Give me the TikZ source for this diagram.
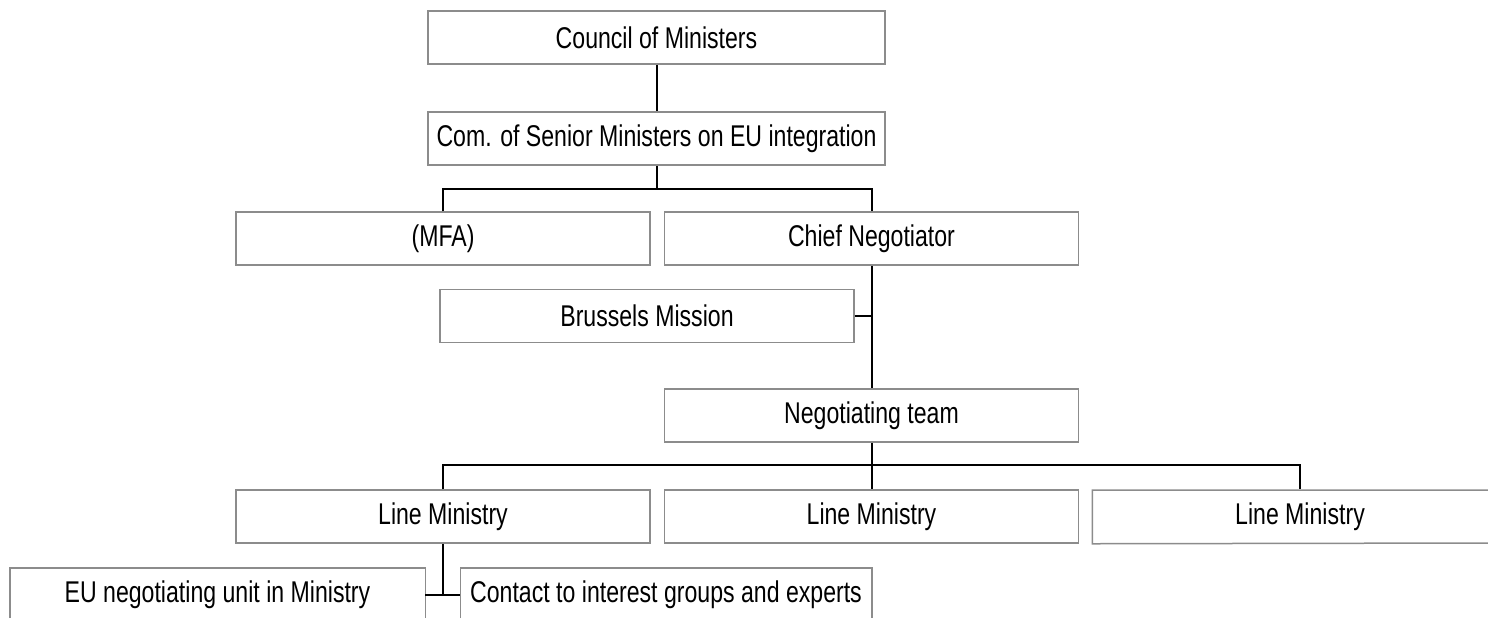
\documentclass[tikz,border=0pt]{standalone}
\usepackage{fontspec}
\setmainfont[FakeStretch=0.77]{Liberation Sans}
\usetikzlibrary{calc}

\tikzset{
  unit/.style={draw=gray!90, line width=0.75pt, minimum width=207pt, minimum height=26.5pt,
    inner sep=0pt, font=\fontsize{15}{18}\selectfont},
  wideunit/.style={unit, minimum width=228.5pt},
  openunit/.style={unit, draw=none},
  rim/.style={draw=gray!90, line width=0.75pt},
  link/.style={draw=black, line width=1pt}
}

\begin{document}
\begin{tikzpicture}[x=0.5pt,y=-0.5pt]
\useasboundingbox[fill=white] (0,0) rectangle (1488,618);

\node[wideunit] (council) at (656.5,37.5) {Council of Ministers};
\node[wideunit] (com) at (656.5,138.5) {Com. of Senior Ministers on EU integration};

\node[unit] (mfa) at (443,238.5) {(MFA)};
\node[unit] (chief) at (871.5,238.5) {Chief Negotiator};
\node[unit] (brussels) at (647,316) {Brussels Mission};
\node[unit] (negteam) at (871.5,415.5) {Negotiating team};

\node[unit] (line1) at (443,516.5) {Line Ministry};
\node[unit] (line2) at (871.5,516.5) {Line Ministry};
\node[openunit] (line3) at (1300,516.5) {Line Ministry};
% last box runs off the page on the right
\draw[rim] (1488,490) -| (line3.south west) -- (1488,543);

% bottom row runs off the page
\node[openunit] (eu) at (217.5,595) {EU negotiating unit in Ministry};
\node[openunit, minimum width=205pt] (contact) at (666,595) {Contact to interest groups and experts};
\draw[rim] (eu.west |- 0,618) |- (eu.north east) -- (eu.east |- 0,618);
\draw[rim] (contact.west |- 0,618) |- (contact.north east) -- (contact.east |- 0,618);

% top of the tree
\coordinate (bar1) at (656.5,189);
\draw[link] (council) -- (com);
\draw[link] (com) -- (bar1);
\draw[link] (mfa.north) |- (bar1) -| (chief.north);

% chief negotiator side
\draw[link] (chief) -- (negteam);
\draw[link] (brussels.east) -- (chief.south |- brussels.east);

% ministries
\coordinate (bar2) at (871.5,465);
\draw[link] (negteam) -- (bar2);
\draw[link] (line1.north) |- (bar2) -| (line3.north);
\draw[link] (bar2) -- (line2);

% inside the ministry
\draw[link] (line1.south) -- (line1.south |- eu.east);
\draw[link] (eu.east) -- (contact.west);
\end{tikzpicture}
\end{document}
